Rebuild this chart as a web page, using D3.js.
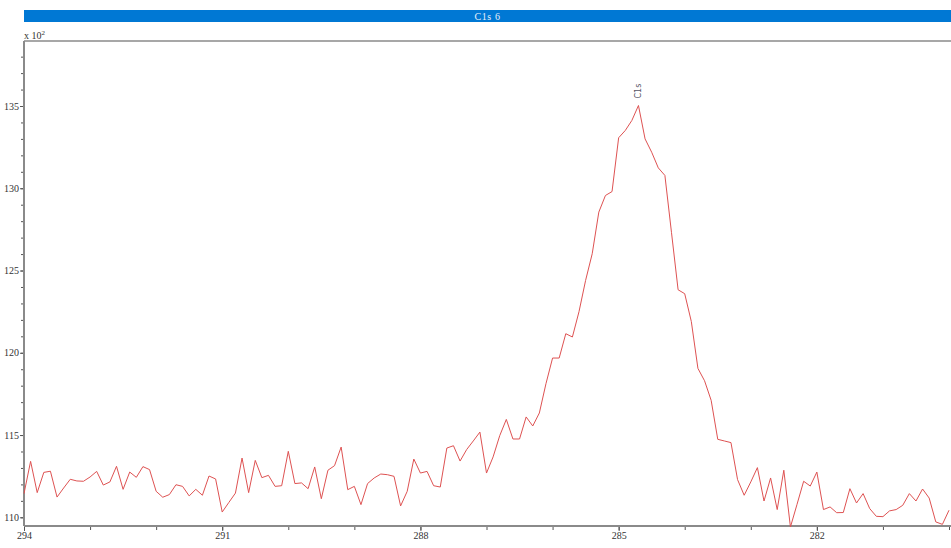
<!DOCTYPE html>
<html>
<head>
<meta charset="utf-8">
<script src="https://cdn.jsdelivr.net/npm/d3@7"></script>
<style>
  body { margin: 0; background: #fff; }
  svg { display: block; }
</style>
</head>
<body>
<div id="chart"></div>
<script>
// spectrum data (counts in units of 10^2), binding energy grid from 294 eV, 0.1 eV step
const title = "C1s 6";
const peakLabel = "C1s";
const peakEnergy = 284.7;
const startEnergy = 294;
const stepEnergy = 0.1;
const counts = [
  111.44, 113.40, 111.50, 112.73, 112.80, 111.23, 111.78, 112.31, 112.21, 112.19,
  112.45, 112.79, 111.96, 112.15, 113.10, 111.70, 112.75, 112.43, 113.08, 112.90,
  111.58, 111.22, 111.38, 111.98, 111.88, 111.30, 111.70, 111.34, 112.51, 112.33,
  110.32, 110.90, 111.47, 113.60, 111.50, 113.46, 112.41, 112.55, 111.88, 111.92,
  114.01, 112.05, 112.09, 111.74, 113.06, 111.13, 112.86, 113.14, 114.27, 111.68,
  111.88, 110.77, 112.05, 112.39, 112.63, 112.59, 112.49, 110.69, 111.58, 113.54,
  112.69, 112.79, 111.92, 111.84, 114.21, 114.35, 113.42, 114.12, 114.64, 115.18,
  112.69, 113.67, 114.96, 115.95, 114.76, 114.76, 116.10, 115.55, 116.34, 118.12,
  119.68, 119.68, 121.16, 120.96, 122.50, 124.40, 126.02, 128.55, 129.56, 129.80,
  133.07, 133.51, 134.12, 135.03, 133.00, 132.19, 131.24, 130.78, 127.30, 123.83,
  123.59, 121.90, 119.05, 118.30, 117.11, 114.74, 114.64, 114.54, 112.29, 111.34,
  112.15, 113.02, 110.99, 112.39, 110.47, 112.86, 109.41, 110.79, 112.19, 111.90,
  112.75, 110.47, 110.63, 110.28, 110.29, 111.74, 110.87, 111.44, 110.53, 110.06,
  110.04, 110.39, 110.47, 110.73, 111.44, 110.99, 111.72, 111.17, 109.72, 109.57,
  110.43
];
const yLabelTicks = [110, 115, 120, 125, 130, 135];
const yMinorTicks = d3.range(110, 139, 1);
const xLabelTicks = [294, 291, 288, 285, 282];
const xMinorTicks = d3.range(294, 279, -1);

const data = counts.map((c, i) => ({ e: startEnergy - i * stepEnergy, c: c }));

const width = 951, height = 548;
const plot = { left: 24, right: 951, top: 41, bottom: 526 };
const font = "'Liberation Serif', 'DejaVu Serif', serif";

const svg = d3.select("#chart")
  .append("svg")
    .attr("width", width)
    .attr("height", height);

// title bar
svg.append("rect")
  .attr("x", plot.left).attr("y", 10)
  .attr("width", plot.right - plot.left).attr("height", 12)
  .attr("fill", "#0078d4");
svg.append("text")
  .attr("x", (plot.left + plot.right) / 2).attr("y", 19.5)
  .attr("text-anchor", "middle")
  .attr("fill", "#e8f0fa")
  .style("font-family", font).style("font-size", "10px")
  .style("letter-spacing", "0.6px")
  .text(title);

// scales
const x = d3.scaleLinear().domain([294, 280]).range([24, 949]);
const y = d3.scaleLinear().domain([110, 135]).range([517.3, 106]);

// frame top
svg.append("line")
  .attr("x1", plot.left).attr("x2", plot.right)
  .attr("y1", plot.top).attr("y2", plot.top)
  .attr("stroke", "#8a8a8a").attr("stroke-width", 1.5);

// y axis
const yMinor = svg.append("g")
  .attr("transform", `translate(${plot.left},0)`)
  .call(d3.axisLeft(y).tickValues(yMinorTicks).tickSize(3).tickFormat(""));
const yMajor = svg.append("g")
  .attr("transform", `translate(${plot.left},0)`)
  .call(d3.axisLeft(y).tickValues(yLabelTicks).tickSize(4).tickPadding(1));
[yMinor, yMajor].forEach(g => {
  g.select(".domain").remove();
  g.selectAll("line").attr("stroke", "#555");
});
yMajor.selectAll("text")
  .attr("fill", "#333")
  .style("font-family", font).style("font-size", "10px");

// x axis
const xMinor = svg.append("g")
  .attr("transform", `translate(0,${plot.bottom})`)
  .call(d3.axisBottom(x).tickValues(xMinorTicks).tickSize(4).tickFormat(""));
const xMajor = svg.append("g")
  .attr("transform", `translate(0,${plot.bottom})`)
  .call(d3.axisBottom(x).tickValues(xLabelTicks).tickSize(5).tickPadding(1));
[xMinor, xMajor].forEach(g => {
  g.select(".domain").remove();
  g.selectAll("line").attr("stroke", "#555");
});
xMajor.selectAll("text")
  .attr("fill", "#333")
  .style("font-family", font).style("font-size", "10px");

// axis lines
svg.append("line")
  .attr("x1", plot.left).attr("x2", plot.left)
  .attr("y1", plot.top).attr("y2", plot.bottom)
  .attr("stroke", "#8a8a8a").attr("stroke-width", 2);
svg.append("line")
  .attr("x1", plot.left).attr("x2", plot.right)
  .attr("y1", plot.bottom).attr("y2", plot.bottom)
  .attr("stroke", "#8a8a8a").attr("stroke-width", 2);

// scale factor label
const unit = svg.append("text")
  .attr("x", plot.left).attr("y", 39)
  .attr("fill", "#333")
  .style("font-family", font).style("font-size", "10px");
unit.append("tspan").text("x 10");
unit.append("tspan").attr("dy", -4).style("font-size", "7px").text("2");

// spectrum line
const line = d3.line()
  .x(d => x(d.e))
  .y(d => y(d.c));
svg.append("path")
  .datum(data)
  .attr("fill", "none")
  .attr("stroke", "#de5252")
  .attr("stroke-width", 1)
  .attr("d", line);

// peak label
const peak = data.reduce((a, b) => (b.c > a.c ? b : a));
svg.append("text")
  .attr("transform", `translate(${x(peakEnergy) + 2.5},${y(peak.c) - 7}) rotate(-90)`)
  .attr("fill", "#556")
  .style("font-family", "'DejaVu Sans', sans-serif").style("font-size", "8px")
  .text(peakLabel);
</script>
</body>
</html>
